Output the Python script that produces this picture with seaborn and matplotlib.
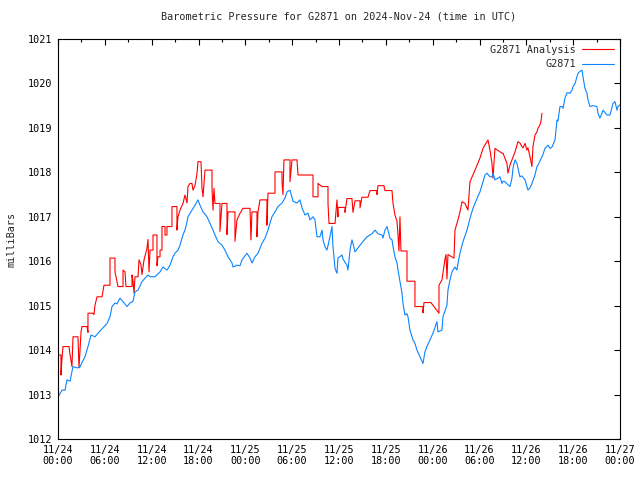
import pandas as pd
import matplotlib
matplotlib.use("Agg")
import matplotlib.pyplot as plt
import matplotlib.dates as mdates
import seaborn as sns

# hours after 2024-11-24 00:00 UTC and pressure in mb
station_hours = [
    0.00, 0.51, 0.90, 1.15, 1.54, 1.92, 2.43, 2.82, 3.07, 3.46, 3.84, 4.23, 4.74, 5.12,
    5.76, 6.28, 6.66, 6.92, 7.30, 7.56, 7.94, 8.33, 8.84, 9.22, 9.61, 9.86, 10.25, 10.76,
    11.15, 11.53, 11.79, 12.43, 13.07, 13.45, 13.96, 14.35, 14.73, 14.99, 15.37, 15.63,
    16.01, 16.27, 16.53, 16.65, 17.17, 17.55, 17.93, 18.19, 18.58, 19.09, 19.47, 19.86,
    20.11, 20.50, 21.01, 21.39, 21.78, 22.29, 22.42, 22.93, 23.32, 23.57, 24.21, 24.60,
    24.85, 25.24, 25.62, 26.13, 26.52, 26.90, 27.41, 27.80, 28.18, 28.70, 29.08, 29.34,
    29.72, 30.11, 30.62, 31.00, 31.26, 31.64, 32.03, 32.28, 32.67, 32.92, 33.18, 33.56,
    33.82, 33.95, 34.20, 34.46, 34.84, 35.10, 35.23, 35.49, 35.74, 35.87, 36.38, 36.51,
    37.02, 37.15, 37.41, 37.66, 37.79, 38.05, 38.43, 38.69, 39.07, 39.58, 39.97, 40.22,
    40.61, 40.99, 41.51, 41.63, 41.89, 42.15, 42.53, 42.79, 42.92, 43.17, 43.43, 43.56,
    43.81, 44.07, 44.20, 44.45, 44.71, 44.84, 45.09, 45.35, 45.48, 45.73, 45.99, 46.37,
    46.76, 47.01, 47.27, 47.66, 48.04, 48.55, 48.68, 49.19, 49.32, 49.83, 49.96, 50.22,
    50.47, 50.86, 51.11, 51.24, 51.50, 51.88, 52.40, 52.78, 53.16, 53.68, 54.06, 54.32,
    54.45, 54.70, 54.96, 55.34, 55.60, 55.73, 55.98, 56.37, 56.62, 56.88, 57.01, 57.26,
    57.65, 57.90, 58.16, 58.29, 58.55, 58.80, 58.93, 59.18, 59.44, 59.83, 60.08, 60.21,
    60.47, 60.72, 61.11, 61.36, 61.49, 62.00, 62.13, 62.39, 62.77, 63.03, 63.29, 63.67,
    63.93, 64.05, 64.31, 64.57, 64.70, 64.95, 65.21, 65.59, 65.85, 65.98, 66.24, 66.49,
    66.62, 66.87, 67.13, 67.26, 67.51, 67.77, 67.90, 68.15, 68.54, 69.05, 69.18, 69.43,
    69.69, 69.82, 70.33, 70.72, 71.10, 71.36, 71.61, 71.74, 72.00,
]
station_mb = [
    1012.94, 1013.10, 1013.10, 1013.33, 1013.30, 1013.63, 1013.60, 1013.62, 1013.72, 1013.85,
    1014.08, 1014.34, 1014.30, 1014.38, 1014.50, 1014.60, 1014.75, 1014.98, 1015.06, 1015.04,
    1015.17, 1015.09, 1014.98, 1015.06, 1015.10, 1015.31, 1015.35, 1015.54, 1015.62, 1015.69,
    1015.65, 1015.65, 1015.76, 1015.87, 1015.80, 1015.91, 1016.10, 1016.18, 1016.25, 1016.36,
    1016.59, 1016.70, 1016.89, 1017.00, 1017.15, 1017.26, 1017.38, 1017.26, 1017.11, 1017.00,
    1016.85, 1016.70, 1016.59, 1016.44, 1016.36, 1016.25, 1016.10, 1015.96, 1015.87, 1015.91,
    1015.90, 1016.03, 1016.18, 1016.07, 1015.96, 1016.10, 1016.18, 1016.40, 1016.52, 1016.70,
    1017.00, 1017.11, 1017.23, 1017.31, 1017.42, 1017.56, 1017.60, 1017.35, 1017.31, 1017.38,
    1017.20, 1017.04, 1017.08, 1016.93, 1017.00, 1016.93, 1016.55, 1016.55, 1016.70, 1016.48,
    1016.33, 1016.25, 1016.55, 1016.78, 1016.33, 1015.84, 1015.73, 1016.07, 1016.14, 1016.05,
    1015.91, 1015.80, 1016.25, 1016.48, 1016.40, 1016.21, 1016.30, 1016.36, 1016.44, 1016.55,
    1016.59, 1016.62, 1016.70, 1016.62, 1016.59, 1016.52, 1016.70, 1016.78, 1016.52, 1016.48,
    1016.33, 1016.10, 1015.96, 1015.80, 1015.54, 1015.28, 1015.05, 1014.79, 1014.82, 1014.75,
    1014.45, 1014.30, 1014.23, 1014.15, 1014.00, 1013.85, 1013.70, 1013.96, 1014.08, 1014.23,
    1014.38, 1014.64, 1014.41, 1014.45, 1014.75, 1015.01, 1015.35, 1015.58, 1015.76, 1015.87,
    1015.80, 1015.95, 1016.18, 1016.44, 1016.70, 1016.96, 1017.19, 1017.41, 1017.56, 1017.71,
    1017.79, 1017.94, 1017.98, 1017.90, 1017.90, 1017.98, 1017.83, 1017.87, 1017.90, 1017.75,
    1017.80, 1017.79, 1017.72, 1017.68, 1017.87, 1018.09, 1018.28, 1018.20, 1018.09, 1017.90,
    1017.92, 1017.83, 1017.68, 1017.60, 1017.65, 1017.75, 1017.94, 1018.13, 1018.16, 1018.35,
    1018.40, 1018.54, 1018.61, 1018.54, 1018.57, 1018.73, 1019.18, 1019.15, 1019.48, 1019.48,
    1019.44, 1019.67, 1019.79, 1019.78, 1019.85, 1019.93, 1020.00, 1020.15, 1020.23, 1020.27,
    1020.30, 1020.15, 1019.89, 1019.78, 1019.63, 1019.48, 1019.50, 1019.48, 1019.33, 1019.22,
    1019.33, 1019.40, 1019.29, 1019.29, 1019.55, 1019.59, 1019.40, 1019.48, 1019.52,
]

analysis_hours = [
    0.00, 0.38, 0.38, 0.51, 0.64, 1.41, 1.54, 1.79, 1.92, 2.56, 2.69, 2.95, 3.07, 3.72,
    3.84, 3.84, 4.48, 4.61, 4.74, 5.00, 5.64, 5.89, 6.66, 6.66, 7.30, 7.30, 7.56, 7.69,
    8.33, 8.33, 8.58, 8.71, 9.48, 9.48, 9.61, 9.74, 9.86, 10.25, 10.38, 10.63, 10.76, 11.02,
    11.40, 11.53, 11.66, 11.79, 12.17, 12.17, 12.68, 12.68, 12.81, 13.07, 13.07, 13.32,
    13.32, 13.71, 13.71, 13.96, 13.96, 14.60, 14.60, 15.24, 15.24, 15.37, 15.63, 16.01,
    16.27, 16.53, 16.65, 16.91, 17.17, 17.29, 17.55, 17.81, 17.93, 18.32, 18.45, 18.58,
    18.83, 19.73, 19.73, 19.86, 19.98, 20.11, 20.75, 20.75, 21.01, 21.65, 21.65, 21.78,
    22.67, 22.67, 22.93, 23.32, 23.70, 24.60, 24.72, 24.85, 25.49, 25.49, 25.62, 25.88,
    26.77, 26.77, 26.90, 27.80, 27.80, 28.70, 28.70, 28.82, 28.95, 29.72, 29.72, 29.98,
    30.62, 30.75, 32.67, 32.67, 33.31, 33.31, 33.82, 34.59, 34.59, 34.72, 35.49, 35.74,
    35.87, 35.87, 36.77, 36.77, 37.02, 37.66, 37.79, 38.05, 38.69, 38.69, 38.94, 39.71,
    39.97, 40.87, 40.87, 40.99, 41.76, 41.89, 42.79, 42.92, 43.17, 43.43, 43.56, 43.68,
    43.81, 43.94, 44.71, 44.71, 45.73, 45.73, 46.76, 46.76, 46.89, 47.78, 48.81, 48.81,
    49.19, 49.58, 49.71, 49.83, 49.96, 50.73, 50.86, 51.24, 51.50, 51.76, 52.14, 52.52,
    52.78, 53.16, 53.68, 54.06, 54.45, 54.96, 55.09, 55.34, 55.60, 55.73, 55.98, 56.88,
    57.01, 57.52, 57.65, 57.90, 58.16, 58.55, 58.80, 58.93, 59.18, 59.44, 59.57, 59.83,
    60.08, 60.21, 60.47, 60.72, 60.85, 61.11, 61.36, 61.49, 61.75, 61.88, 62.00,
]
analysis_mb = [
    1013.89, 1013.89, 1013.44, 1013.80, 1014.08, 1014.08, 1013.90, 1013.63, 1014.30, 1014.30,
    1013.60, 1014.41, 1014.53, 1014.53, 1014.40, 1014.83, 1014.83, 1014.80, 1015.01, 1015.20,
    1015.20, 1015.46, 1015.46, 1016.07, 1016.07, 1015.76, 1015.54, 1015.43, 1015.43, 1015.80,
    1015.76, 1015.43, 1015.43, 1015.69, 1015.55, 1015.28, 1015.65, 1015.65, 1016.03, 1015.92,
    1015.70, 1016.03, 1016.29, 1016.49, 1015.76, 1016.25, 1016.25, 1016.59, 1016.59, 1015.90,
    1016.10, 1016.10, 1016.25, 1016.25, 1016.78, 1016.78, 1016.59, 1016.59, 1016.78, 1016.78,
    1017.23, 1017.23, 1016.70, 1017.00, 1017.15, 1017.30, 1017.49, 1017.31, 1017.68, 1017.75,
    1017.75, 1017.60, 1017.70, 1017.98, 1018.24, 1018.24, 1017.64, 1017.45, 1018.05, 1018.05,
    1017.64, 1017.15, 1017.64, 1017.30, 1017.30, 1016.67, 1017.30, 1017.30, 1016.60, 1017.11,
    1017.11, 1016.45, 1016.93, 1017.08, 1017.19, 1017.19, 1016.48, 1017.11, 1017.11, 1016.55,
    1017.11, 1017.38, 1017.38, 1016.81, 1017.53, 1017.53, 1018.01, 1018.01, 1017.80, 1017.50,
    1018.28, 1018.28, 1017.79, 1018.28, 1018.28, 1017.94, 1017.94, 1017.45, 1017.45, 1017.75,
    1017.68, 1017.68, 1017.30, 1016.85, 1016.85, 1017.38, 1017.00, 1017.21, 1017.21, 1017.10,
    1017.41, 1017.41, 1017.10, 1017.36, 1017.36, 1017.20, 1017.44, 1017.44, 1017.59, 1017.59,
    1017.50, 1017.70, 1017.70, 1017.59, 1017.59, 1017.30, 1017.04, 1016.90, 1016.59, 1016.23,
    1017.00, 1016.23, 1016.23, 1015.55, 1015.55, 1014.98, 1014.98, 1014.84, 1015.07, 1015.07,
    1014.83, 1015.46, 1015.58, 1016.05, 1016.15, 1015.60, 1016.15, 1016.07, 1016.70, 1016.93,
    1017.11, 1017.34, 1017.30, 1017.15, 1017.79, 1017.94, 1018.16, 1018.32, 1018.54, 1018.69,
    1018.73, 1018.50, 1018.20, 1017.87, 1018.54, 1018.43, 1018.43, 1018.20, 1017.98, 1018.16,
    1018.28, 1018.46, 1018.61, 1018.69, 1018.66, 1018.58, 1018.55, 1018.65, 1018.50, 1018.55,
    1018.35, 1018.13, 1018.58, 1018.84, 1018.91, 1018.99, 1019.07, 1019.15, 1019.33,
]

start = pd.Timestamp("2024-11-24 00:00")
station = pd.DataFrame({
    "time": start + pd.to_timedelta(station_hours, unit="h"),
    "mb": station_mb,
})
analysis = pd.DataFrame({
    "time": start + pd.to_timedelta(analysis_hours, unit="h"),
    "mb": analysis_mb,
})

sns.set_style("white")
plt.rcParams["font.family"] = ["DejaVu Sans Mono"]
plt.rcParams["font.size"] = 7.3

fig = plt.figure(figsize=(6.4, 4.8), dpi=100)
ax = fig.add_axes([58 / 640, 41 / 480, 562 / 640, 400 / 480])

sns.lineplot(data=analysis, x="time", y="mb", ax=ax, color="#ff0000", lw=0.8,
             sort=False, estimator=None, label="G2871 Analysis")
sns.lineplot(data=station, x="time", y="mb", ax=ax, color="#0a84ff", lw=0.8,
             sort=False, estimator=None, label="G2871")

ax.set_xlim(start, start + pd.Timedelta(hours=72))
ax.set_ylim(1012, 1021)
ax.set_yticks(range(1012, 1022))
ax.xaxis.set_major_locator(mdates.HourLocator(byhour=range(0, 24, 6)))
ax.xaxis.set_minor_locator(mdates.HourLocator(byhour=range(0, 24, 3)))
ax.xaxis.set_major_formatter(mdates.DateFormatter("%m/%d\n%H:%M"))

ax.tick_params(which="both", direction="in", top=True, right=True, color="black",
               labelsize=7.3, labelcolor="black")
ax.tick_params(which="major", length=4.5, width=0.8, pad=4)
ax.tick_params(which="minor", length=2.5, width=0.8)
for s in ax.spines.values():
    s.set_color("black")
    s.set_linewidth(0.8)

ax.set_xlabel("")
ax.set_ylabel("milliBars", fontsize=7.3, labelpad=8)
ax.set_title("Barometric Pressure for G2871 on 2024-Nov-24 (time in UTC)",
             fontsize=7.3, pad=14)

ax.legend(loc="upper right", frameon=False, markerfirst=False, fontsize=7.3,
          handlelength=3.2, handletextpad=0.6, labelspacing=0.45,
          borderaxespad=0.15)

fig.savefig("out.png", dpi=100)
